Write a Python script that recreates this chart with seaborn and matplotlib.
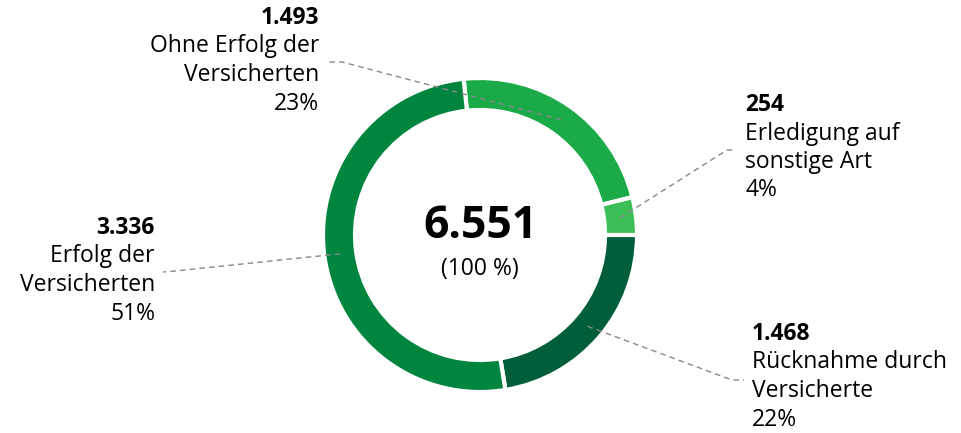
import numpy as np
import matplotlib.pyplot as plt
import seaborn as sns

# Abschluss der Widersprüche
categories = ["Ohne Erfolg der\nVersicherten", "Erledigung auf\nsonstige Art",
              "Rücknahme durch\nVersicherte", "Erfolg der\nVersicherten"]
counts = [1493, 254, 1468, 3336]
colors = ["#1aab48", "#3cbf56", "#005e3b", "#00853f"]

total = sum(counts)


def fmt(n):
    return f"{n:,}".replace(",", ".")


sns.set_theme(style="white")
plt.rcParams["font.family"] = ["Open Sans", "DejaVu Sans"]

W, H = 961, 433
fig = plt.figure(figsize=(W / 100, H / 100), dpi=100)
ax = fig.add_axes([0, 0, 1, 1])

cx, cy = 480, H - 235
r_out, ring = 157, 32

wedges, _ = ax.pie(counts, colors=colors, startangle=96, counterclock=False,
                   radius=r_out, center=(cx, cy),
                   wedgeprops=dict(width=ring, edgecolor="white", linewidth=3))
ax.set_xlim(0, W)
ax.set_ylim(0, H)
ax.set_aspect("equal")
ax.axis("off")

# label block: (x, top line y in px, alignment), leader elbow/end in px
label_pos = [(319, 18, "right"), (745, 105, "left"), (752, 334, "left"), (155, 228, "right")]
leader = [((342, 62), (328, 62)), ((727, 150), (736, 150)),
          ((732, 380), (744, 380)), ((175, 271), (163, 272))]

for w, n, cat, (lx, ly, ha), (elbow, end) in zip(wedges, counts, categories, label_pos, leader):
    mid = np.deg2rad((w.theta1 + w.theta2) / 2)
    rm = r_out - ring / 2
    sx, sy = cx + rm * np.cos(mid), cy + rm * np.sin(mid)
    ax.plot([sx, elbow[0], end[0]], [sy, H - elbow[1], H - end[1]],
            color="#888888", lw=1, ls=(0, (4, 3)), zorder=5)
    lines = [fmt(n)] + cat.split("\n") + [f"{round(n / total * 100)}%"]
    for i, t in enumerate(lines):
        ax.text(lx, H - (ly + i * 28.5), t, ha=ha, va="center", fontsize=16.5,
                fontweight="bold" if i == 0 else "normal", color="black")

ax.text(cx, H - 227, fmt(total), ha="center", va="center", fontsize=32,
        fontweight="bold", color="black")
ax.text(cx, H - 269, "(100 %)", ha="center", va="center", fontsize=16.5, color="black")

fig.savefig("out.png", dpi=100)
